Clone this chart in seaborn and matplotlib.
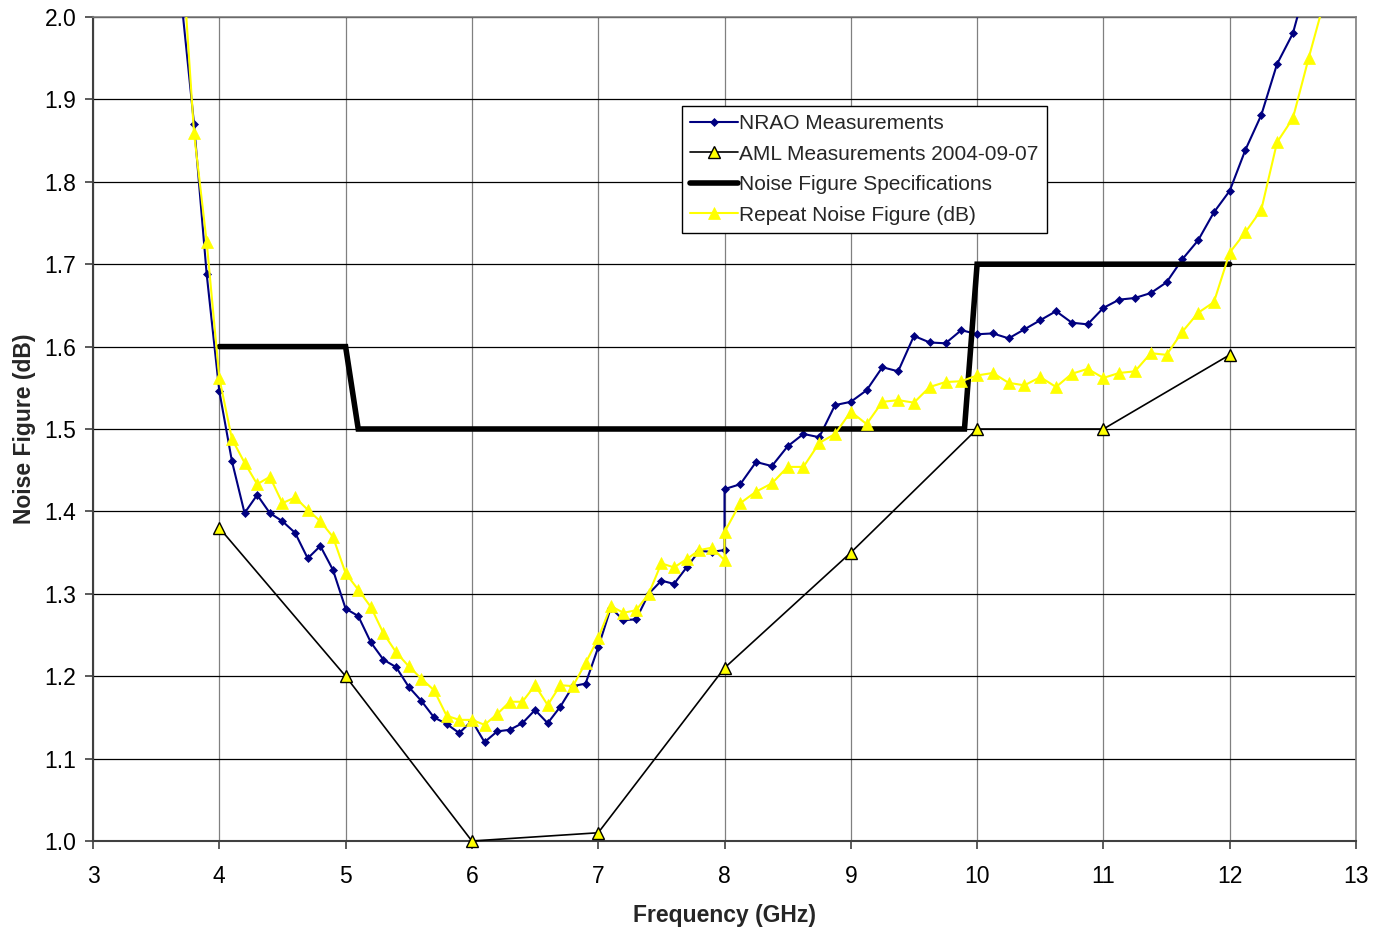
import numpy as np
import matplotlib
matplotlib.use('Agg')
import matplotlib.pyplot as plt
import seaborn as sns

# NRAO measurements (0.1 GHz steps up to 8 GHz, then 0.125 GHz steps)
nrao_freq = [3.7, 3.8, 3.9, 4.0, 4.1, 4.2, 4.3, 4.4, 4.5, 4.6, 4.7, 4.8, 4.9,
             5.0, 5.1, 5.2, 5.3, 5.4, 5.5, 5.6, 5.7, 5.8, 5.9,
             6.0, 6.1, 6.2, 6.3, 6.4, 6.5, 6.6, 6.7, 6.8, 6.9,
             7.0, 7.1, 7.2, 7.3, 7.4, 7.5, 7.6, 7.7, 7.8, 7.9, 8.0,
             8.0, 8.125, 8.25, 8.375, 8.5, 8.625, 8.75, 8.875,
             9.0, 9.125, 9.25, 9.375, 9.5, 9.625, 9.75, 9.875,
             10.0, 10.125, 10.25, 10.375, 10.5, 10.625, 10.75, 10.875,
             11.0, 11.125, 11.25, 11.375, 11.5, 11.625, 11.75, 11.875,
             12.0, 12.125, 12.25, 12.375, 12.5, 12.625]
nrao_nf = [2.02, 1.87, 1.688, 1.546, 1.461, 1.398, 1.420, 1.398, 1.388, 1.374, 1.343, 1.358, 1.329,
           1.282, 1.273, 1.241, 1.220, 1.211, 1.187, 1.170, 1.150, 1.142, 1.131,
           1.146, 1.120, 1.133, 1.135, 1.143, 1.159, 1.143, 1.163, 1.188, 1.191,
           1.235, 1.283, 1.268, 1.269, 1.300, 1.316, 1.312, 1.332, 1.352, 1.351, 1.353,
           1.427, 1.433, 1.460, 1.455, 1.479, 1.494, 1.490, 1.529,
           1.533, 1.547, 1.575, 1.570, 1.613, 1.605, 1.604, 1.620,
           1.615, 1.616, 1.610, 1.621, 1.632, 1.643, 1.629, 1.627,
           1.647, 1.657, 1.659, 1.665, 1.678, 1.706, 1.729, 1.763,
           1.789, 1.839, 1.881, 1.943, 1.980, 2.05]

# AML measurements 2004-09-07
aml_freq = [4, 5, 6, 7, 8, 9, 10, 11, 12]
aml_nf = [1.38, 1.20, 1.00, 1.01, 1.21, 1.35, 1.50, 1.50, 1.59]

# Noise figure specification
spec_freq = [4.0, 5.0, 5.1, 9.9, 10.0, 12.0]
spec_nf = [1.6, 1.6, 1.5, 1.5, 1.7, 1.7]

# Repeat noise figure
repeat_freq = [3.7, 3.8, 3.9, 4.0, 4.1, 4.2, 4.3, 4.4, 4.5, 4.6, 4.7, 4.8, 4.9,
               5.0, 5.1, 5.2, 5.3, 5.4, 5.5, 5.6, 5.7, 5.8, 5.9,
               6.0, 6.1, 6.2, 6.3, 6.4, 6.5, 6.6, 6.7, 6.8, 6.9,
               7.0, 7.1, 7.2, 7.3, 7.4, 7.5, 7.6, 7.7, 7.8, 7.9, 8.0,
               8.0, 8.125, 8.25, 8.375, 8.5, 8.625, 8.75, 8.875,
               9.0, 9.125, 9.25, 9.375, 9.5, 9.625, 9.75, 9.875,
               10.0, 10.125, 10.25, 10.375, 10.5, 10.625, 10.75, 10.875,
               11.0, 11.125, 11.25, 11.375, 11.5, 11.625, 11.75, 11.875,
               12.0, 12.125, 12.25, 12.375, 12.5, 12.625, 12.75]
repeat_nf = [2.09, 1.859, 1.727, 1.562, 1.488, 1.459, 1.433, 1.442, 1.410, 1.417, 1.402, 1.388, 1.369,
             1.325, 1.305, 1.284, 1.252, 1.229, 1.212, 1.197, 1.183, 1.152, 1.147,
             1.147, 1.141, 1.154, 1.169, 1.169, 1.189, 1.165, 1.189, 1.188, 1.216,
             1.246, 1.285, 1.277, 1.280, 1.300, 1.337, 1.332, 1.342, 1.353, 1.356, 1.341,
             1.375, 1.410, 1.424, 1.434, 1.454, 1.454, 1.483, 1.494,
             1.521, 1.506, 1.533, 1.535, 1.532, 1.551, 1.557, 1.558,
             1.565, 1.568, 1.556, 1.553, 1.563, 1.551, 1.567, 1.573,
             1.562, 1.568, 1.570, 1.592, 1.590, 1.618, 1.641, 1.654,
             1.714, 1.739, 1.766, 1.848, 1.877, 1.950, 2.02]

x_ticks = [3, 4, 5, 6, 7, 8, 9, 10, 11, 12, 13]
y_ticks = [1.0, 1.1, 1.2, 1.3, 1.4, 1.5, 1.6, 1.7, 1.8, 1.9, 2.0]

sns.set_style('white')
plt.rcParams['font.family'] = ['Liberation Sans', 'DejaVu Sans']

fig = plt.figure(figsize=(13.73, 9.27), dpi=100)
ax = fig.add_axes([93 / 1373, 1 - 841 / 927, (1356 - 93) / 1373, (841 - 17) / 927])

sns.lineplot(x=nrao_freq, y=nrao_nf, sort=False, estimator=None, ax=ax,
             color='#000080', lw=1.5, marker='D', markersize=4.5,
             markeredgecolor='#000080', markeredgewidth=0.5,
             label='NRAO Measurements', zorder=3, legend=False)
sns.lineplot(x=aml_freq, y=aml_nf, sort=False, estimator=None, ax=ax,
             color='black', lw=1.2, marker='^', markersize=8,
             markerfacecolor='#FFFF00', markeredgecolor='black', markeredgewidth=1.0,
             label='AML Measurements 2004-09-07', zorder=5, clip_on=False, legend=False)
sns.lineplot(x=spec_freq, y=spec_nf, sort=False, estimator=None, ax=ax,
             color='black', lw=4, solid_joinstyle='miter',
             label='Noise Figure Specifications', zorder=4, legend=False)
sns.lineplot(x=repeat_freq, y=repeat_nf, sort=False, estimator=None, ax=ax,
             color='#FFFF00', lw=1.5, marker='^', markersize=8.5,
             markeredgecolor='#FFFF00', markeredgewidth=0.5,
             label='Repeat Noise Figure (dB)', zorder=4.5, legend=False)

ax.set_xlim(3, 13)
ax.set_ylim(1.0, 2.0)
ax.set_xticks(x_ticks)
ax.set_yticks(y_ticks)
ax.set_xticklabels([str(t) for t in x_ticks])
ax.set_yticklabels([f'{t:.1f}' for t in y_ticks])

ax.yaxis.grid(True, color='black', lw=0.9)
ax.xaxis.grid(True, color='#808080', lw=0.9)
ax.set_axisbelow(True)

for side in ['left', 'bottom']:
    ax.spines[side].set_color('#404040')
    ax.spines[side].set_linewidth(1.5)
for side in ['top', 'right']:
    ax.spines[side].set_color('#808080')
    ax.spines[side].set_linewidth(1.2)

ax.tick_params(axis='both', which='major', bottom=True, left=True, direction='out',
               length=6, width=1.2, color='#404040', labelsize=16.5, labelcolor='black')
ax.tick_params(axis='x', pad=11)
ax.tick_params(axis='y', pad=6)

ax.set_xlabel('Frequency (GHz)', fontsize=16.5, fontweight='bold', labelpad=12)
ax.set_ylabel('Noise Figure (dB)', fontsize=16.5, fontweight='bold', labelpad=6)

handles, labels = ax.get_legend_handles_labels()
leg = ax.legend(handles, labels, loc='upper left', bbox_to_anchor=(0.466, 0.892),
                borderaxespad=0, fontsize=15, frameon=True, fancybox=False,
                edgecolor='black', framealpha=1, handlelength=2.3,
                handletextpad=0.05, labelspacing=0.55, borderpad=0.4)
leg.get_frame().set_linewidth(1.0)

fig.savefig('out.png', dpi=100)
